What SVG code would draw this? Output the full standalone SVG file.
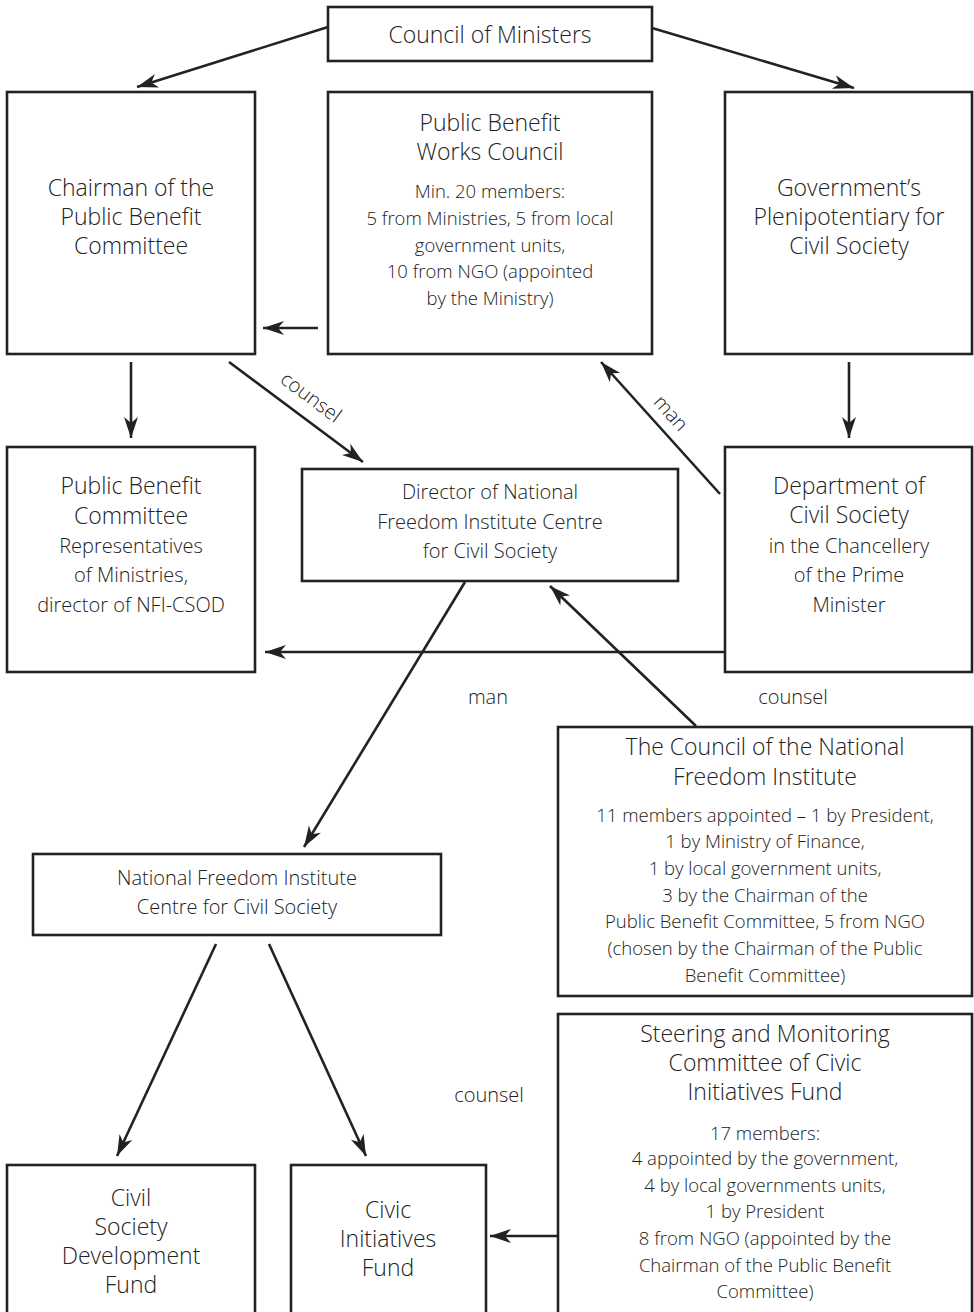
<svg xmlns="http://www.w3.org/2000/svg" width="974" height="1312" viewBox="0 0 974 1312">
<style>
.box{fill:#fff;stroke:#222;stroke-width:2.6}
text{font-family:"Open Sans","Noto Sans","Liberation Sans",sans-serif;font-weight:300;fill:#222;text-anchor:middle}
.t23{font-size:23px}
.t20{font-size:20px}
.t18{font-size:18.5px}
.c line{stroke:#222;stroke-width:2.6;fill:none;marker-end:url(#ah)}
</style>
<defs>
<marker id="ah" markerUnits="userSpaceOnUse" markerWidth="24" markerHeight="18" viewBox="-22 -9 24 18" refX="0" refY="0" orient="auto">
<path d="M0,0 L-21,-7 L-15,0 L-21,7 Z" fill="#222"/>
</marker>
</defs>
<rect width="974" height="1312" fill="#fff"/>
<g id="connectors" class="c">
<line x1="328" y1="27" x2="137" y2="87"/>
<line x1="652" y1="28" x2="854" y2="88"/>
<line x1="318" y1="328" x2="263" y2="328"/>
<line x1="131" y1="362" x2="131" y2="438"/>
<line x1="229" y1="362" x2="363" y2="462"/>
<line x1="849" y1="362" x2="849" y2="438"/>
<line x1="720" y1="494" x2="601" y2="362"/>
<line x1="725" y1="652" x2="265" y2="652"/>
<line x1="696" y1="726" x2="550" y2="586"/>
<line x1="465" y1="582" x2="304" y2="847"/>
<line x1="216" y1="944" x2="117" y2="1156"/>
<line x1="269" y1="944" x2="366" y2="1156"/>
<line x1="558" y1="1236" x2="490" y2="1236"/>
</g>
<g id="labels">
<text class="t20" transform="translate(311,397) rotate(36.7)" y="7">counsel</text>
<text class="t20" transform="translate(671,413) rotate(48)" y="7">man</text>
<text class="t20" x="488" y="704">man</text>
<text class="t20" x="793" y="704">counsel</text>
<text class="t20" x="489" y="1102">counsel</text>
</g>
<g id="council-of-ministers">
<rect class="box" x="328" y="7" width="324" height="54"/>
<text class="t23" x="490" y="43">Council of Ministers</text>
</g>
<g id="chairman">
<rect class="box" x="7" y="92" width="248" height="262"/>
<text class="t23"><tspan x="131" y="196">Chairman of the</tspan><tspan x="131" y="225">Public Benefit</tspan><tspan x="131" y="254">Committee</tspan></text>
</g>
<g id="pbwc">
<rect class="box" x="328" y="92" width="324" height="262"/>
<text class="t23"><tspan x="490" y="131">Public Benefit</tspan><tspan x="490" y="160">Works Council</tspan><tspan class="t18" x="490" y="198">Min. 20 members:</tspan><tspan class="t18" x="490" y="225">5 from Ministries, 5 from local</tspan><tspan class="t18" x="490" y="252">government units,</tspan><tspan class="t18" x="490" y="278">10 from NGO (appointed</tspan><tspan class="t18" x="490" y="305">by the Ministry)</tspan></text>
</g>
<g id="plenipotentiary">
<rect class="box" x="725" y="92" width="247" height="262"/>
<text class="t23"><tspan x="849" y="196">Government’s</tspan><tspan x="849" y="225">Plenipotentiary for</tspan><tspan x="849" y="254">Civil Society</tspan></text>
</g>
<g id="pbc">
<rect class="box" x="7" y="447" width="248" height="225"/>
<text class="t23"><tspan x="131" y="494">Public Benefit</tspan><tspan x="131" y="524">Committee</tspan><tspan class="t20" x="131" y="553">Representatives</tspan><tspan class="t20" x="131" y="582">of Ministries,</tspan><tspan class="t20" x="131" y="612">director of NFI-CSOD</tspan></text>
</g>
<g id="director">
<rect class="box" x="302" y="469" width="376" height="112"/>
<text class="t20"><tspan x="490" y="499">Director of National</tspan><tspan x="490" y="529">Freedom Institute Centre</tspan><tspan x="490" y="558">for Civil Society</tspan></text>
</g>
<g id="department">
<rect class="box" x="725" y="447" width="247" height="225"/>
<text class="t23"><tspan x="849" y="494">Department of</tspan><tspan x="849" y="523">Civil Society</tspan><tspan class="t20" x="849" y="553">in the Chancellery</tspan><tspan class="t20" x="849" y="582">of the Prime</tspan><tspan class="t20" x="849" y="612">Minister</tspan></text>
</g>
<g id="council-nfi">
<rect class="box" x="558" y="727" width="414" height="269"/>
<text class="t23"><tspan x="765" y="755">The Council of the National</tspan><tspan x="765" y="785">Freedom Institute</tspan><tspan class="t18" x="765" y="822">11 members appointed – 1 by President,</tspan><tspan class="t18" x="765" y="848">1 by Ministry of Finance,</tspan><tspan class="t18" x="765" y="875">1 by local government units,</tspan><tspan class="t18" x="765" y="902">3 by the Chairman of the</tspan><tspan class="t18" x="765" y="928">Public Benefit Committee, 5 from NGO</tspan><tspan class="t18" x="765" y="955">(chosen by the Chairman of the Public</tspan><tspan class="t18" x="765" y="982">Benefit Committee)</tspan></text>
</g>
<g id="nfi-centre">
<rect class="box" x="33" y="854" width="408" height="81"/>
<text class="t20"><tspan x="237" y="885">National Freedom Institute</tspan><tspan x="237" y="914">Centre for Civil Society</tspan></text>
</g>
<g id="steering">
<rect class="box" x="558" y="1014" width="414" height="310"/>
<text class="t23"><tspan x="765" y="1042">Steering and Monitoring</tspan><tspan x="765" y="1071">Committee of Civic</tspan><tspan x="765" y="1100">Initiatives Fund</tspan><tspan class="t18" x="765" y="1140">17 members:</tspan><tspan class="t18" x="765" y="1165">4 appointed by the government,</tspan><tspan class="t18" x="765" y="1192">4 by local governments units,</tspan><tspan class="t18" x="765" y="1218">1 by President</tspan><tspan class="t18" x="765" y="1245">8 from NGO (appointed by the</tspan><tspan class="t18" x="765" y="1272">Chairman of the Public Benefit</tspan><tspan class="t18" x="765" y="1298">Committee)</tspan></text>
</g>
<g id="csdf">
<rect class="box" x="7" y="1165" width="248" height="160"/>
<text class="t23"><tspan x="131" y="1206">Civil</tspan><tspan x="131" y="1235">Society</tspan><tspan x="131" y="1264">Development</tspan><tspan x="131" y="1293">Fund</tspan></text>
</g>
<g id="cif">
<rect class="box" x="291" y="1165" width="195" height="160"/>
<text class="t23"><tspan x="388" y="1217.5">Civic</tspan><tspan x="388" y="1246.5">Initiatives</tspan><tspan x="388" y="1275.5">Fund</tspan></text>
</g>
</svg>
